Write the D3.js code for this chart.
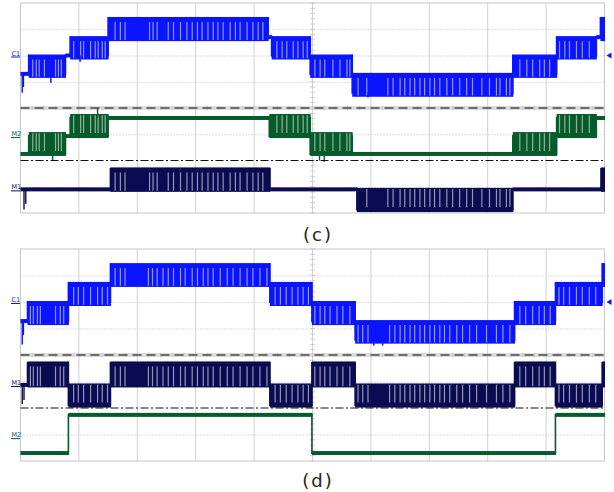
<!DOCTYPE html>
<html><head><meta charset="utf-8">
<script src="https://cdn.jsdelivr.net/npm/d3@7/dist/d3.min.js"></script>
<style>body{margin:0;background:#fff}svg{display:block}</style>
</head><body>
<svg id="chart" width="614" height="492"></svg>
<script>
// ---------- DATA (time in divisions 0..10, amplitude in divisions 0..8 per panel) ----------
const timeDivs = [0,1,2,3,4,5,6,7,8,9,10];
const voltDivs = [0,1,2,3,4,5,6,7,8];
const panelLabels = ["(c)", "(d)"];
const channelNames = ["C1", "M1", "M2"];

// segments: [tStart, tEnd, upperLevel, lowerLevel]  (upper == lower -> flat trace)
const c_C1 = [[0,0.14,5.30,5.30],[0.14,0.77,6.00,5.30],[0.77,0.85,6.00,6.00],[0.85,1.50,6.70,6.00],
  [1.50,4.24,7.43,6.70],[4.24,4.30,6.70,6.70],[4.30,4.96,6.70,6.00],[4.96,5.68,6.00,5.30],
  [5.68,8.43,5.30,4.58],[8.43,9.18,6.00,5.30],[9.18,9.86,6.70,6.00],[9.86,9.93,6.70,6.70],[9.93,10,7.43,6.70]];
const c_M2 = [[0,0.14,2.25,2.25],[0.14,0.77,2.93,2.25],[0.77,0.85,2.93,2.93],[0.85,1.50,3.62,2.93],
  [1.50,4.26,3.62,3.62],[4.26,4.96,3.62,2.93],[4.96,5.68,2.93,2.25],[5.68,8.43,2.25,2.25],
  [8.43,9.18,2.93,2.25],[9.18,9.86,3.62,2.93],[9.86,10,3.62,3.62]];
const c_M1 = [[0,1.54,0.90,0.90],[1.54,4.27,1.68,0.90],[4.27,5.76,0.90,0.90],[5.76,8.43,0.90,0.13],
  [8.43,9.94,0.90,0.90],[9.94,10,1.68,0.90]];

const d_C1 = [[0,0.12,5.28,5.28],[0.12,0.82,6.00,5.28],[0.82,1.54,6.72,6.00],[1.54,4.27,7.43,6.72],
  [4.27,4.99,6.72,6.00],[4.99,5.73,6.00,5.28],[5.73,8.46,5.28,4.58],[8.46,9.16,6.00,5.28],
  [9.16,9.96,6.72,6.00],[9.96,10,7.43,6.72]];
const d_M1 = [[0,0.12,2.87,2.87],[0.12,0.82,3.70,2.87],[0.82,1.54,2.87,2.11],[1.54,4.27,3.70,2.87],
  [4.27,4.99,2.87,2.11],[4.99,5.73,3.70,2.87],[5.73,8.46,2.87,2.11],[8.46,9.16,3.70,2.87],
  [9.16,9.96,2.87,2.11],[9.96,10,3.70,2.87]];
const d_M2 = [[0,0.82,0.30,0.30],[0.82,4.99,1.74,1.74],[4.99,9.16,0.30,0.30],[9.16,10,1.74,1.74]];

// switching gaps (times where the PWM trace leaves the band visibly)
const c_gaps = [0.21,0.27,0.32,0.41,0.60,0.65,0.70,0.91,1.03,1.08,1.20,1.28,1.33,1.40,1.45,1.62,1.71,1.79,
  2.21,2.27,2.34,2.53,2.62,2.74,2.85,2.94,3.03,3.11,3.21,3.30,3.38,3.47,3.59,3.68,3.76,3.88,3.98,4.07,4.15,
  4.39,4.48,4.56,4.67,4.75,4.84,4.91,5.04,5.13,5.21,5.35,5.47,5.59,5.64,5.78,5.93,6.29,6.38,6.50,6.58,6.67,
  6.75,6.84,6.92,7.01,7.09,7.18,7.30,7.40,7.52,7.64,7.74,7.90,8.03,8.15,8.21,8.32,8.38,8.55,8.67,8.77,8.89,
  8.97,9.06,9.23,9.32,9.40,9.52,9.62,9.74,9.83];
const d_gaps = [0.17,0.22,0.29,0.34,0.60,0.68,0.74,0.91,0.99,1.08,1.20,1.32,1.40,1.49,1.62,1.71,1.79,2.19,
  2.26,2.34,2.44,2.53,2.62,2.74,2.82,2.94,3.03,3.13,3.21,3.30,3.42,3.54,3.64,3.76,3.88,3.98,4.10,4.22,4.36,
  4.45,4.55,4.65,4.75,4.84,4.93,5.04,5.13,5.21,5.30,5.42,5.52,5.64,5.78,5.86,5.95,6.32,6.41,6.50,6.58,6.67,
  6.75,6.84,6.92,7.01,7.09,7.18,7.26,7.35,7.47,7.57,7.69,7.81,7.98,8.15,8.26,8.38,8.55,8.65,8.77,8.88,8.97,
  9.07,9.22,9.30,9.40,9.52,9.62,9.74,9.85];

// isolated spikes: [t, fromLevel, toLevel]
const c_C1_spikes = [[0.03,5.30,4.58],[0.05,5.30,4.80],[0.52,5.30,4.95],[1.02,6.00,5.75],[5.95,4.58,4.40],[7.70,4.58,4.45]];
const c_M2_spikes = [[1.32,3.62,4.00],[0.55,2.25,2.00],[5.12,2.25,2.00],[5.20,2.25,1.95]];
const c_M1_spikes = [[0.06,0.90,0.13],[0.09,0.90,0.35]];
const d_C1_spikes = [[0.03,5.28,4.40],[0.05,5.28,4.75],[6.05,4.58,4.35],[6.20,4.58,4.35]];
const d_M1_spikes = [[0.03,2.87,2.15],[0.06,2.87,2.30]];
const d_M2_spikes = [];

// channel offset markers (level of the label line)
const c_offsets = [6.00, 0.90, 2.93];
const d_offsets = [6.00, 2.87, 0.90];

// ---------- DRAWING ----------
const svg = d3.select("#chart");
const styles = {
  C1: {color:"#0a14ff", gap:"#9196ff", over:[1,4], domTop:()=>true},
  M2: {color:"#075a2b", gap:"#8db49a", over:[4,2], domTop:()=>false},
  M1: {color:"#0b0b52", gap:"#9494b8", over:[1.5,2.5], domTop:null}
};

function drawPanel(top, bottom, label, labelY, traces, offsets) {
  const x = d3.scaleLinear().domain([0,10]).range([20.5,604.5]);
  const y = d3.scaleLinear().domain([0,8]).range([bottom, top]);
  const g = svg.append("g");
  // grid
  g.selectAll(".vg").data(timeDivs.slice(1,-1)).join("line")
    .attr("x1",d=>x(d)).attr("x2",d=>x(d)).attr("y1",y(8)).attr("y2",y(0))
    .attr("stroke","#d2d2d2").attr("stroke-width",1);
  g.selectAll(".hg").data(voltDivs.filter(v=>v>0&&v<8&&v!==4&&v!==2)).join("line")
    .attr("x1",x(0)).attr("x2",x(10)).attr("y1",d=>y(d)+0.5).attr("y2",d=>y(d)+0.5)
    .attr("stroke","#b8b8b8").attr("stroke-width",1).attr("stroke-dasharray","1,2");
  // center axis minor ticks
  const minorV = d3.range(0,8.01,0.2), minorT = d3.range(0,10.01,0.2);
  g.selectAll(".mt").data(minorV).join("line")
    .attr("x1",x(5)-2.5).attr("x2",x(5)+2.5).attr("y1",d=>y(d)).attr("y2",d=>y(d))
    .attr("stroke","#c4c4c4").attr("stroke-width",0.8);
  g.append("line").attr("x1",x(0)).attr("x2",x(10)).attr("y1",y(4)).attr("y2",y(4))
    .attr("stroke","#dcdcdc").attr("stroke-width",4);
  g.selectAll(".mh").data(minorT).join("line")
    .attr("y1",y(4)-2.5).attr("y2",y(4)+2.5).attr("x1",d=>x(d)).attr("x2",d=>x(d))
    .attr("stroke","#c4c4c4").attr("stroke-width",0.8);
  // border
  g.append("rect").attr("x",x(0)).attr("y",y(8)).attr("width",x(10)-x(0)).attr("height",y(0)-y(8))
    .attr("fill","none").attr("stroke","#c6c6c6").attr("stroke-width",1);

  // traces
  traces.forEach(tr => {
    const st = styles[tr.name];
    const tg = g.append("g");
    tr.segs.forEach((s,i) => {
      const [t0,t1,hi,lo] = s;
      if (hi === lo) {
        tg.append("rect").attr("x",x(t0)).attr("width",x(t1)-x(t0)+0.5)
          .attr("y",y(hi)-2).attr("height",4).attr("fill",st.color);
      } else {
        const yt = y(hi)-st.over[0], yb = y(lo)+st.over[1];
        tg.append("rect").attr("x",x(t0)).attr("width",x(t1)-x(t0)+0.5)
          .attr("y",yt).attr("height",yb-yt).attr("fill",st.color);
        const domTop = st.domTop ? st.domTop(s) : (lo === tr.mid);
        const g0 = domTop ? yt+5 : yt+1.2;
        const g1 = domTop ? yb-1.2 : yb-5;
        tg.selectAll(null).data(tr.gaps.filter(t=>t>t0+0.03 && t<t1-0.03)).join("line")
          .attr("x1",d=>x(d)).attr("x2",d=>x(d)).attr("y1",g0).attr("y2",g1)
          .attr("stroke",st.gap).attr("stroke-width",1.2);
      }
      if (i>0) {
        const p = tr.segs[i-1];
        const a = Math.max(p[2],hi), b = Math.min(p[3],lo);
        tg.append("line").attr("x1",x(t0)).attr("x2",x(t0)).attr("y1",y(a)-1).attr("y2",y(b)+1)
          .attr("stroke",st.color).attr("stroke-width",1.6);
      }
    });
    tg.selectAll(null).data(tr.spikes).join("line")
      .attr("x1",d=>x(d[0])).attr("x2",d=>x(d[0])).attr("y1",d=>y(d[1])).attr("y2",d=>y(d[2]))
      .attr("stroke",st.color).attr("stroke-width",1.4);
  });

  // marker lines
  g.append("line").attr("x1",x(0)).attr("x2",x(10)).attr("y1",y(4)).attr("y2",y(4))
    .attr("stroke","#4a4a4a").attr("stroke-width",1.6).attr("stroke-dasharray","9,5");
  g.append("line").attr("x1",x(0)).attr("x2",x(10)).attr("y1",y(2)).attr("y2",y(2))
    .attr("stroke","#111").attr("stroke-width",1.2).attr("stroke-dasharray","8,2.5,2,2.5");

  // channel labels
  channelNames.forEach((n,i) => {
    const st = styles[n], oy = y(offsets[i]);
    g.append("text").attr("x",11.5).attr("y",oy).text(n)
      .attr("font-family","DejaVu Sans, sans-serif").attr("font-size",6.5).attr("fill",st.color);
    g.append("line").attr("x1",11).attr("x2",20).attr("y1",oy+1.5).attr("y2",oy+1.5)
      .attr("stroke",st.color).attr("stroke-width",1);
  });
  // C1 reference arrow on the right
  const ay = y(offsets[0]);
  g.append("path").attr("d",`M${x(10)+2},${ay} L${x(10)+7},${ay-3} L${x(10)+7},${ay+3} Z`)
    .attr("fill",styles.C1.color);

  svg.append("text").attr("x",318).attr("y",labelY).attr("text-anchor","middle")
    .attr("font-family","DejaVu Sans, sans-serif").attr("font-size",18).attr("letter-spacing",2)
    .attr("fill","#222").text(label);
}

drawPanel(3, 213, panelLabels[0], 241, [
  {name:"C1", segs:c_C1, gaps:c_gaps, spikes:c_C1_spikes},
  {name:"M2", segs:c_M2, gaps:c_gaps, spikes:c_M2_spikes},
  {name:"M1", segs:c_M1, gaps:c_gaps, spikes:c_M1_spikes, mid:0.90}
], c_offsets);
drawPanel(249, 461, panelLabels[1], 487, [
  {name:"C1", segs:d_C1, gaps:d_gaps, spikes:d_C1_spikes},
  {name:"M1", segs:d_M1, gaps:d_gaps, spikes:d_M1_spikes, mid:2.87},
  {name:"M2", segs:d_M2, gaps:d_gaps, spikes:d_M2_spikes}
], d_offsets);
</script>
</body></html>
